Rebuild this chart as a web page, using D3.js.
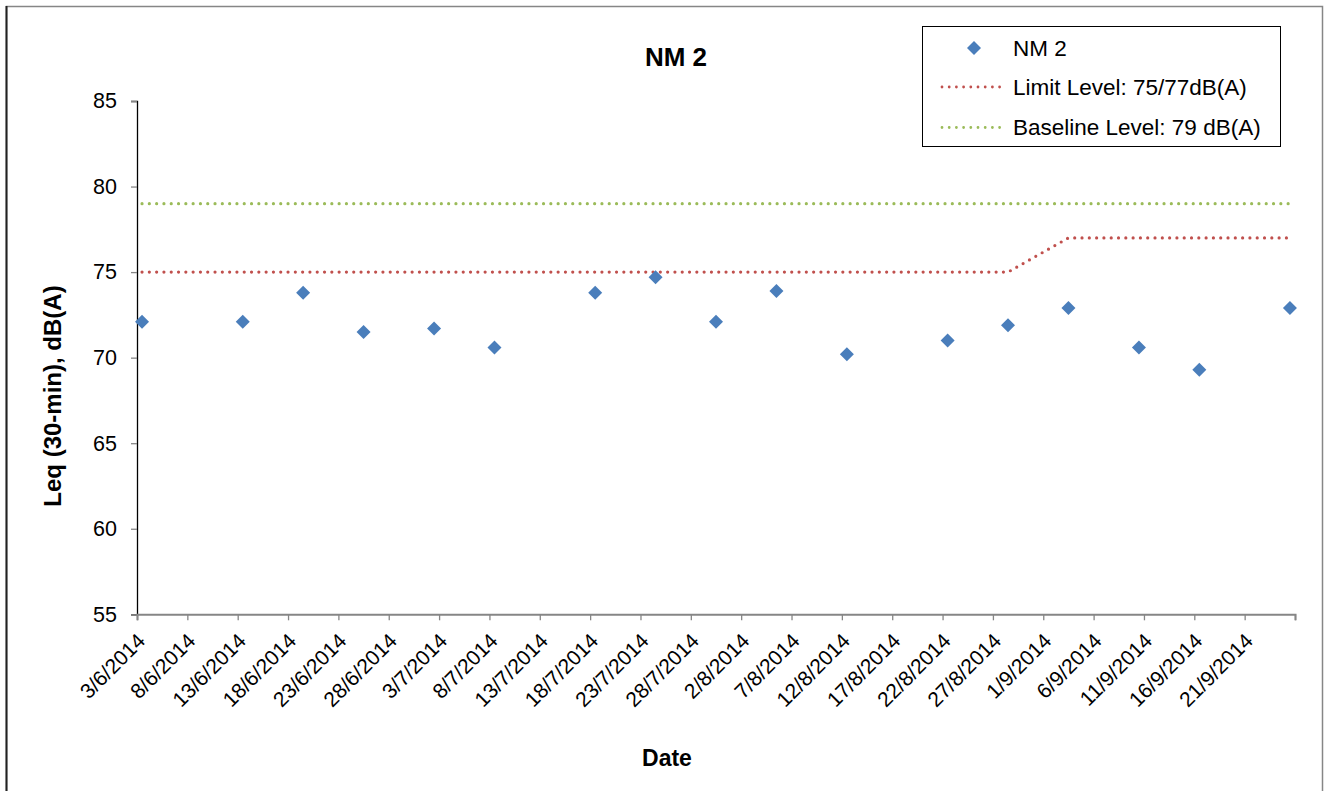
<!DOCTYPE html>
<html>
<head>
<meta charset="utf-8">
<script src="https://cdn.jsdelivr.net/npm/d3@7"></script>
<style>
  html, body { margin: 0; padding: 0; background: #fff; }
  svg { display: block; font-family: "Liberation Sans", Arial, sans-serif; }
</style>
</head>
<body>
<svg id="chart" width="1333" height="791"></svg>
<script>
// ---- data ----
const dates = [
  "2014-06-03 12:00", "2014-06-13 12:00", "2014-06-19 12:00", "2014-06-25 12:00",
  "2014-07-02 12:00", "2014-07-08 12:00", "2014-07-18 12:00", "2014-07-24 12:00",
  "2014-07-30 12:00", "2014-08-05 12:00", "2014-08-12 12:00", "2014-08-22 12:00",
  "2014-08-28 12:00", "2014-09-03 12:00", "2014-09-10 12:00", "2014-09-16 12:00",
  "2014-09-25 12:00"
];
const nm2Values = [72.1, 72.1, 73.8, 71.5, 71.7, 70.6, 73.8, 74.7, 72.1, 73.9, 70.2, 71.0, 71.9, 72.9, 70.6, 69.3, 72.9];
const limitValues = [75, 75, 75, 75, 75, 75, 75, 75, 75, 75, 75, 75, 75, 77, 77, 77, 77];
const baselineValues = [79, 79, 79, 79, 79, 79, 79, 79, 79, 79, 79, 79, 79, 79, 79, 79, 79];
const xDomain = ["2014-06-03 00:00", "2014-09-26 00:00"];
const yTicks = [55, 60, 65, 70, 75, 80, 85];
const seriesNames = ["NM 2", "Limit Level: 75/77dB(A)", "Baseline Level: 79 dB(A)"];
const titleText = "NM 2";
const xTitle = "Date";
const yTitle = "Leq (30-min), dB(A)";

// ---- setup ----
const parse = d3.timeParse("%Y-%m-%d %H:%M");
const fmt = d3.timeFormat("%-d/%-m/%Y");
const xs = dates.map(parse);
const svg = d3.select("#chart");

const colors = { nm2: "#4a7ebb", limit: "#c0504d", base: "#9bbb59" };

const x = d3.scaleTime().domain(xDomain.map(parse)).range([137, 1295]);
const y = d3.scaleLinear().domain([55, 85]).range([614.3, 101]);

// outer frame
svg.append("rect").attr("x", 6.5).attr("y", 6.5).attr("width", 1316).attr("height", 800)
  .attr("fill", "none").attr("stroke", "#868686").attr("stroke-width", 1.5);
svg.append("line").attr("x1", 6.5).attr("x2", 6.5).attr("y1", 6).attr("y2", 791)
  .attr("stroke", "#222").attr("stroke-width", 2);

// title
svg.append("text").attr("x", 676).attr("y", 66).attr("text-anchor", "middle")
  .attr("font-size", 26).attr("font-weight", "bold").text(titleText);

// y axis
const yAxis = d3.axisLeft(y).tickValues(yTicks).tickSize(6).tickPadding(14).tickFormat(d3.format("d"));
const gy = svg.append("g").attr("transform", "translate(137,0)").call(yAxis);
gy.select(".domain").attr("stroke", "#000").attr("stroke-width", 1.3);
gy.selectAll(".tick line").attr("stroke", "#868686").attr("stroke-width", 1.3);
gy.selectAll(".tick text").attr("font-size", 21.5).attr("fill", "#000")
  .attr("font-family", "Liberation Sans, Arial, sans-serif");

// x axis
const start = parse(xDomain[0]);
const tickDates = d3.range(0, 116, 5).map(d => d3.timeDay.offset(start, d));
const lastTick = tickDates[tickDates.length - 1];
const xAxis = d3.axisBottom(x).tickValues(tickDates).tickSize(6)
  .tickFormat(d => (+d === +lastTick ? "" : fmt(d)));
const gx = svg.append("g").attr("transform", "translate(0,614.3)").call(xAxis);
gx.select(".domain").attr("stroke", "#868686").attr("stroke-width", 2);
gx.selectAll(".tick line").attr("stroke", "#868686").attr("stroke-width", 1.3);
gx.selectAll(".tick text")
  .attr("font-size", 21).attr("fill", "#000")
  .attr("font-family", "Liberation Sans, Arial, sans-serif")
  .attr("text-anchor", "end")
  .attr("dy", null)
  .attr("y", null)
  .attr("transform", "translate(9,28) rotate(-45)");

// axis titles
svg.append("text").attr("x", 667).attr("y", 766).attr("text-anchor", "middle")
  .attr("font-size", 23).attr("font-weight", "bold").text(xTitle);
svg.append("text").attr("transform", "translate(61,396) rotate(-90)").attr("text-anchor", "middle")
  .attr("font-size", 24).attr("font-weight", "bold").text(yTitle);

// lines
const lineGen = d3.line().x(d => x(d[0])).y(d => y(d[1]));
svg.append("path").datum(xs.map((d, i) => [d, baselineValues[i]]))
  .attr("d", lineGen).attr("fill", "none").attr("stroke", colors.base)
  .attr("stroke-width", 3.2).attr("stroke-linecap", "round").attr("stroke-dasharray", "0 7.3");
svg.append("path").datum(xs.map((d, i) => [d, limitValues[i]]))
  .attr("d", lineGen).attr("fill", "none").attr("stroke", colors.limit)
  .attr("stroke-width", 3.2).attr("stroke-linecap", "round").attr("stroke-dasharray", "0 7.3");

// points
const diamond = "M0,-7L7,0L0,7L-7,0Z";
svg.append("g").selectAll("path").data(xs.map((d, i) => [d, nm2Values[i]])).join("path")
  .attr("d", diamond)
  .attr("transform", d => `translate(${x(d[0])},${y(d[1])})`)
  .attr("fill", colors.nm2);

// legend
const lg = svg.append("g");
lg.append("rect").attr("x", 922.5).attr("y", 26.5).attr("width", 358).attr("height", 120)
  .attr("fill", "#fff").attr("stroke", "#000").attr("stroke-width", 1);
const rows = [48, 87, 127.5];
lg.append("path").attr("d", diamond).attr("transform", `translate(974,${rows[0]})`).attr("fill", colors.nm2);
lg.append("line").attr("x1", 942).attr("x2", 1002).attr("y1", rows[1]).attr("y2", rows[1])
  .attr("stroke", colors.limit).attr("stroke-width", 2.8).attr("stroke-linecap", "round").attr("stroke-dasharray", "0 7.2");
lg.append("line").attr("x1", 942).attr("x2", 1002).attr("y1", rows[2]).attr("y2", rows[2])
  .attr("stroke", colors.base).attr("stroke-width", 2.8).attr("stroke-linecap", "round").attr("stroke-dasharray", "0 7.2");
seriesNames.forEach((n, i) => {
  lg.append("text").attr("x", 1013).attr("y", rows[i] + 7.5).attr("font-size", 22.5).attr("fill", "#000").text(n);
});
</script>
</body>
</html>
